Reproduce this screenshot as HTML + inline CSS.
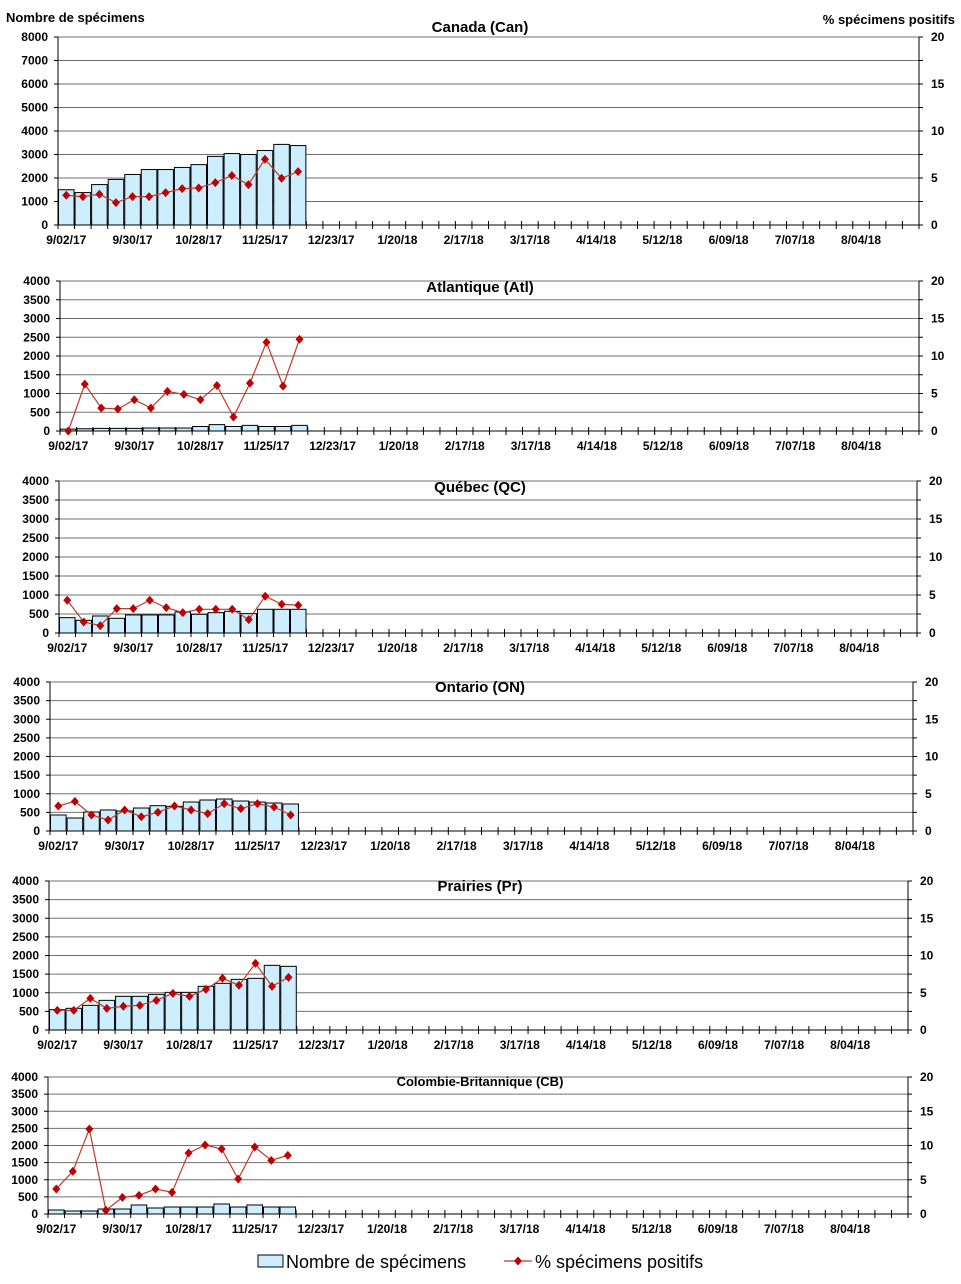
<!DOCTYPE html>
<html><head><meta charset="utf-8"><style>
body{margin:0;background:#fff;width:961px;height:1284px;overflow:hidden;font-family:"Liberation Sans",Arial,sans-serif}
svg{position:absolute;left:0;top:0}
</style></head><body>
<svg id="chart" width="961" height="1284" xmlns="http://www.w3.org/2000/svg"></svg>
<script>
const weekLabels=["9/02/17","9/30/17","10/28/17","11/25/17","12/23/17","1/20/18","2/17/18","3/17/18","4/14/18","5/12/18","6/09/18","7/07/18","8/04/18"];
const nWeeks=52;
const regionNames=["Canada (Can)","Atlantique (Atl)","Québec (QC)","Ontario (ON)","Prairies (Pr)","Colombie-Britannique (CB)"];
const canCounts=[1500,1380,1720,1940,2150,2360,2360,2450,2570,2920,3040,3000,3170,3430,3380];
const canPct=[3.16,3.02,3.27,2.38,3.02,3.02,3.45,3.87,3.94,4.51,5.26,4.30,7.0,4.97,5.68];
const atlCounts=[50,60,70,70,70,80,80,80,120,170,120,150,120,120,150];
const atlPct=[0,6.25,3.06,2.93,4.17,3.06,5.28,4.88,4.17,6.07,1.86,6.39,11.84,5.99,12.24];
const qcCounts=[404,334,448,387,475,475,475,554,492,536,571,510,624,624,624];
const qcPct=[4.31,1.45,0.97,3.21,3.21,4.31,3.34,2.68,3.12,3.12,3.12,1.76,4.84,3.78,3.65];
const onCounts=[430,349,510,564,537,617,680,662,778,832,859,805,778,752,725];
const onPct=[3.36,3.98,2.15,1.48,2.82,1.92,2.51,3.36,2.82,2.33,3.67,3.0,3.67,3.22,2.15];
const prCounts=[546,582,662,796,904,904,957,1011,1011,1172,1253,1360,1387,1736,1709];
const prPct=[2.64,2.64,4.25,2.91,3.18,3.31,3.98,4.92,4.52,5.46,6.94,6.0,8.95,5.86,7.07];
const cbCounts=[117,88,88,146,146,263,175,204,204,204,292,204,263,204,204];
const cbPct=[3.65,6.23,12.41,0.54,2.43,2.72,3.65,3.16,8.9,10.07,9.49,5.11,9.78,7.83,8.56];
const leftMaxes=[8000,4000,4000,4000,4000,4000];
const rightTicks=[0,5,10,15,20];

const panels=[
 {l:58,r:919,t:37,b:225,counts:canCounts,pct:canPct,ts:15,ty:32},
 {l:60,r:919,t:281,b:431,counts:atlCounts,pct:atlPct,ts:15,ty:292},
 {l:59,r:917,t:481,b:633,counts:qcCounts,pct:qcPct,ts:15,ty:492},
 {l:50,r:913,t:682,b:831,counts:onCounts,pct:onPct,ts:15,ty:692},
 {l:49,r:908,t:881,b:1030,counts:prCounts,pct:prPct,ts:15,ty:891},
 {l:48,r:908,t:1077,b:1214,counts:cbCounts,pct:cbPct,ts:13,ty:1086}
];
const NS="http://www.w3.org/2000/svg";
const svg=document.getElementById('chart');
function mk(tag,attrs,parent,text){const e=document.createElementNS(NS,tag);for(const k in attrs)e.setAttribute(k,attrs[k]);if(text!=null)e.textContent=text;(parent||svg).appendChild(e);return e;}

panels.forEach((p,pi)=>{
 const g=mk('g',{});
 
 
 const lmax=leftMaxes[pi];
 const step=lmax/8;
 const yL=v=>p.b-(v/lmax)*(p.b-p.t);
 const yR=v=>p.b-(v/20)*(p.b-p.t);
 const cw=(p.r-p.l)/nWeeks;
 const xC=i=>p.l+(i+0.5)*cw;
 for(let k=0;k<=8;k++){
  const v=k*step,y=yL(v);
  if(k>0){const gl=mk('line',{x1:p.l,x2:p.r,y1:y,y2:y,stroke:'#707070','stroke-width':1},g);
   
   }
  mk('line',{x1:p.l-4,x2:p.l,y1:y,y2:y,stroke:'#000'},g);
  const t=mk('text',{x:p.l-10,y:y+4,'text-anchor':'end','font-size':12,'font-weight':'bold'},g,String(v));
  
  
 }
 for(let k=0;k<=8;k++){const y=yR(k*2.5);mk('line',{x1:p.r,x2:p.r+4,y1:y,y2:y,stroke:'#000'},g);}
 rightTicks.forEach(v=>{
  const t=mk('text',{x:p.r+12,y:yR(v)+4,'font-size':12,'font-weight':'bold'},g,String(v));
  
  
 });
 p.counts.forEach((c,i)=>{
  const b=mk('rect',{x:p.l+i*cw+0.5,y:yL(c),width:cw-1,height:p.b-yL(c),fill:'#cceeff',stroke:'#000','stroke-width':1},g);
  
  
 });
 mk('line',{x1:p.l,x2:p.l,y1:p.t,y2:p.b,stroke:'#000'},g);
 mk('line',{x1:p.r,x2:p.r,y1:p.t,y2:p.b,stroke:'#000'},g);
 mk('line',{x1:p.l,x2:p.r,y1:p.b,y2:p.b,stroke:'#000'},g);
 for(let i=0;i<=nWeeks;i++){const x=p.l+i*cw;mk('line',{x1:x,x2:x,y1:p.b-4,y2:p.b+4,stroke:'#000'},g);}
 weekLabels.forEach((lb,j)=>{
  const t=mk('text',{x:xC(j*4),y:p.b+19,'text-anchor':'middle','font-size':12,'font-weight':'bold'},g,lb);
  
  
 });
 const pts=p.pct.map((v,i)=>xC(i)+','+yR(v)).join(' ');
 const pl=mk('polyline',{points:pts,fill:'none',stroke:'#c0392b','stroke-width':1.2},g);
 
 
 p.pct.forEach((v,i)=>{
  const x=xC(i),y=yR(v);
  const d=mk('polygon',{points:`${x},${y-4.5} ${x+4},${y} ${x},${y+4.5} ${x-4},${y}`,fill:'#c00000'},g);
  
  
 });
 const tt=mk('text',{x:480,y:p.ty,'text-anchor':'middle','font-size':p.ts,'font-weight':'bold'},g,regionNames[pi]);
 
 
});
const yt=mk('text',{x:6,y:22,'font-size':13,'font-weight':'bold'},svg,'Nombre de spécimens');


const y2t=mk('text',{x:955,y:24,'text-anchor':'end','font-size':13,'font-weight':'bold'},svg,'% spécimens positifs');


const lg=mk('g',{});


const lb=mk('rect',{x:258,y:1255,width:25,height:12,fill:'#cceeff',stroke:'#000'},lg);


const l1=mk('text',{x:286,y:1268,'font-size':18},lg,'Nombre de spécimens');


mk('line',{x1:504,x2:532,y1:1261,y2:1261,stroke:'#c0392b','stroke-width':1.2},lg);
mk('polygon',{points:'518,1256.5 522,1261 518,1265.5 514,1261',fill:'#c00000'},lg);
const l2=mk('text',{x:535,y:1268,'font-size':18},lg,'% spécimens positifs');


</script>
</body></html>
